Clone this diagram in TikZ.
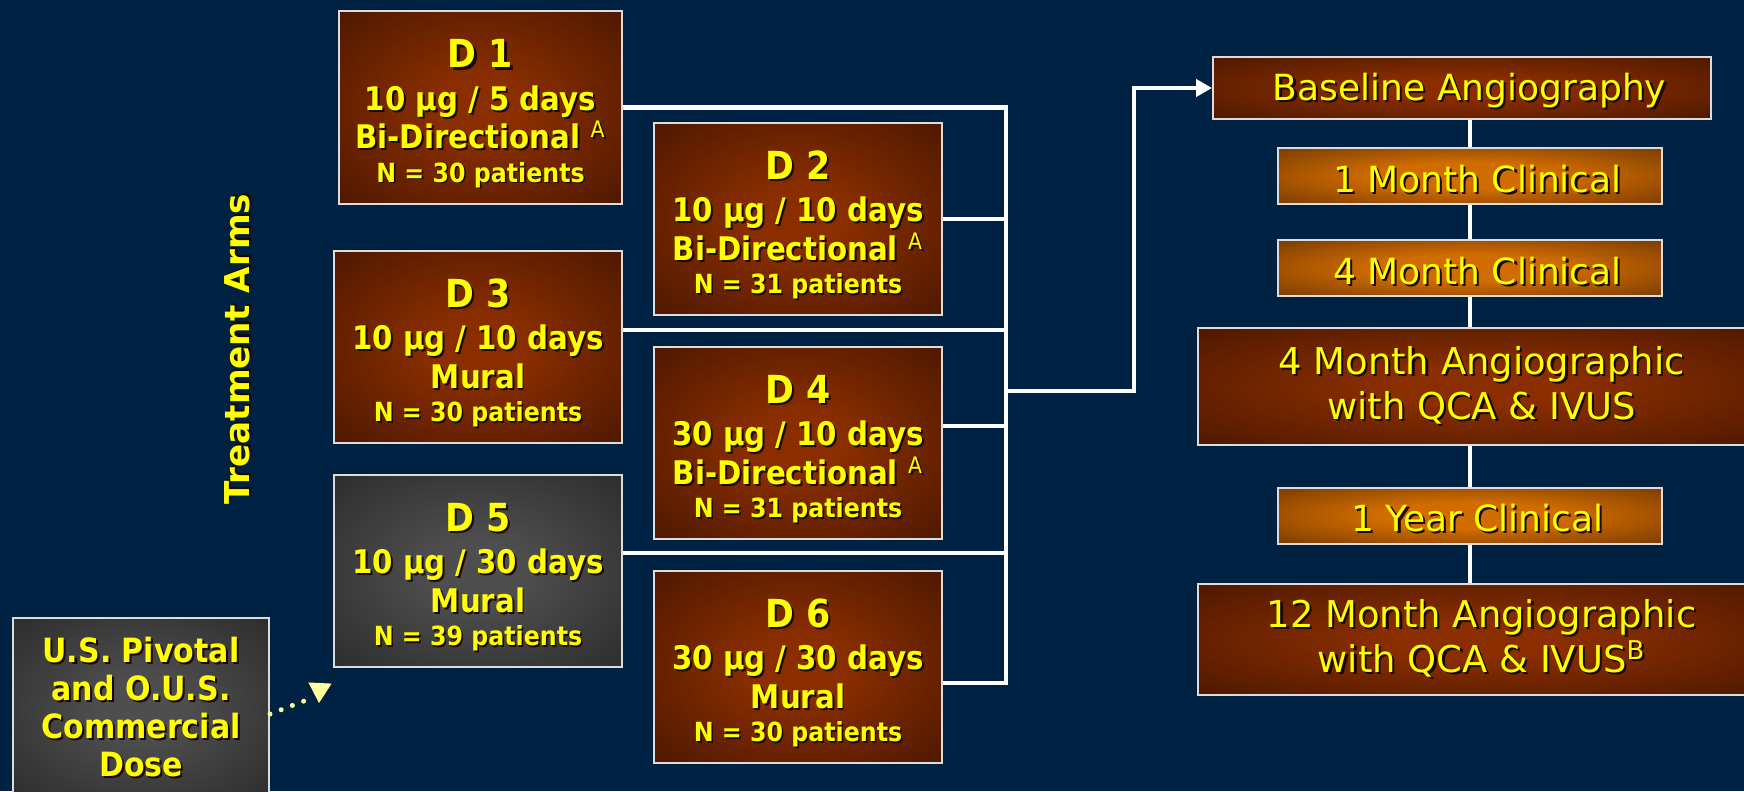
\documentclass[tikz,border=0pt]{standalone}
\usepackage{fontspec}
\setmainfont{DejaVu Sans}
\newfontfamily\condfont[FakeStretch=0.9]{DejaVu Sans}
\usetikzlibrary{arrows.meta,positioning}

\definecolor{navy}{RGB}{0,34,66}
\definecolor{armin}{RGB}{138,46,0}
\definecolor{armout}{RGB}{46,13,0}
\definecolor{visin}{RGB}{208,108,0}
\definecolor{visout}{RGB}{70,30,0}
\definecolor{greyin}{RGB}{78,78,78}
\definecolor{greyout}{RGB}{28,28,28}
\definecolor{yel}{RGB}{255,255,0}
\definecolor{dotyel}{RGB}{255,255,160}
\definecolor{frame}{RGB}{220,220,220}
\definecolor{txtshadow}{RGB}{25,8,0}

\pgfdeclareradialshading{armglow}{\pgfpoint{0bp}{0bp}}{color(0bp)=(armin); color(8bp)=(armin); color(50bp)=(armout)}
\pgfdeclareradialshading{visglow}{\pgfpoint{0bp}{0bp}}{color(0bp)=(visin); color(12bp)=(visin); color(50bp)=(visout)}
\pgfdeclareradialshading{greyglow}{\pgfpoint{0bp}{0bp}}{color(0bp)=(greyin); color(8bp)=(greyin); color(50bp)=(greyout)}

% yellow text with a dark drop shadow
\newcommand\shtext[1]{\leavevmode\rlap{\kern0.06em\raisebox{-0.06em}{\color{txtshadow}#1}}#1}

\tikzset{
  box/.style={draw=frame, line width=0.04cm, text=yel, align=center, inner sep=0pt},
  arm/.style={box, shade, shading=armglow, minimum width=5.76cm, minimum height=3.84cm,
    font=\condfont\bfseries\fontsize{18.5}{22}\selectfont},
  greyarm/.style={arm, shading=greyglow},
  visit/.style={box, shade, shading=visglow, minimum width=7.68cm, minimum height=1.12cm,
    font=\fontsize{20.5}{25}\selectfont,
    execute at begin node={\hspace*{0.3cm}\rule{0pt}{20pt}}},
  angio/.style={box, shade, shading=armglow, minimum width=11.34cm, minimum height=2.34cm,
    font=\fontsize{21}{25.5}\selectfont,
    execute at begin node={\rule{0pt}{21pt}}},
  wire/.style={draw=white, line width=0.095cm},
  dotline/.style={draw=dotyel, line width=0.1cm, line cap=round, dash pattern=on 0pt off 0.24cm},
}
\newcommand\armhead[1]{{\fontsize{22}{26}\selectfont\rule{0pt}{24pt}\shtext{#1}}}
\newcommand\armcount[1]{{\fontsize{15}{20}\selectfont\shtext{#1}}}

\begin{document}
\begin{tikzpicture}[x=0.02cm, y=-0.02cm]
  \useasboundingbox (0,0) rectangle (1744,791);
  \fill[navy] (0,0) rectangle (1744,791);
  \clip (0,0) rectangle (1744,791);

  % treatment arms
  \node[arm, minimum width=5.66cm, minimum height=3.86cm] (d1) at (480.5,107.5)
    {\armhead{D 1}\\[2pt] \shtext{10 µg / 5 days}\\ \shtext{Bi-Directional \textsuperscript{\mdseries A}}\\[-3pt] \armcount{N = 30 patients}};
  \node[arm] (d2) at (798,219)
    {\armhead{D 2}\\[2pt] \shtext{10 µg / 10 days}\\ \shtext{Bi-Directional \textsuperscript{\mdseries A}}\\[-3pt] \armcount{N = 31 patients}};
  \node[arm] (d3) at (478,347)
    {\armhead{D 3}\\[2pt] \shtext{10 µg / 10 days}\\ \shtext{Mural}\\[-3pt] \armcount{N = 30 patients}};
  \node[arm] (d4) at (798,443)
    {\armhead{D 4}\\[2pt] \shtext{30 µg / 10 days}\\ \shtext{Bi-Directional \textsuperscript{\mdseries A}}\\[-3pt] \armcount{N = 31 patients}};
  \node[greyarm] (d5) at (478,571)
    {\armhead{D 5}\\[2pt] \shtext{10 µg / 30 days}\\ \shtext{Mural}\\[-3pt] \armcount{N = 39 patients}};
  \node[arm] (d6) at (798,667)
    {\armhead{D 6}\\[2pt] \shtext{30 µg / 30 days}\\ \shtext{Mural}\\[-3pt] \armcount{N = 30 patients}};

  \node[greyarm, minimum width=5.12cm, minimum height=3.6cm,
    font=\condfont\bfseries\fontsize{19}{21.6}\selectfont] (us) at (141,708)
    {\shtext{U.S. Pivotal}\\ \shtext{and O.U.S.}\\ \shtext{Commercial}\\ \shtext{Dose}};

  \node[rotate=90, text=yel, font=\bfseries\fontsize{19.5}{23}\selectfont] (arms) at (238,349)
    {\shtext{Treatment Arms}};

  % follow-up schedule
  \node[visit, minimum width=9.96cm, minimum height=1.24cm, shading=armglow] (base) at (1462,88)
    {\shtext{Baseline Angiography}};
  \node[visit] (m1) at (1470,176) {\shtext{1 Month Clinical}};
  \node[visit] (m4) at (1470,268) {\shtext{4 Month Clinical}};
  \node[angio] (a4) at (1481.5,386.5) {\shtext{4 Month Angiographic}\\ \shtext{with QCA \& IVUS}};
  \node[visit] (y1) at (1470,515.5) {\shtext{1 Year Clinical}};
  \node[angio, minimum height=2.22cm] (a12) at (1481.5,639.5)
    {\shtext{12 Month Angiographic}\\ \shtext{with QCA \& IVUS\textsuperscript{B}}};

  % connectors
  \coordinate (bus) at (1006,0);
  \coordinate (jog) at (1134,391);
  \coordinate (l3) at ([yshift=0.34cm]d3.east);
  \coordinate (l4) at ([yshift=0.34cm]d4.east);
  \coordinate (l5) at ([yshift=0.36cm]d5.east);
  \coordinate (l6) at ([yshift=-0.32cm]d6.east);
  \draw[wire] (d1.east) -| (bus |- l6) -- (l6);
  \draw[wire] (d2.east) -- (d2.east -| bus);
  \draw[wire] (l3) -- (l3 -| bus);
  \draw[wire] (l4) -- (l4 -| bus);
  \draw[wire] (l5) -- (l5 -| bus);
  \draw[wire, -{Triangle[length=0.32cm, width=0.34cm]}] (bus |- jog) -- (jog) |- (base.west);

  \draw[wire] (m1.north) -- (m1.north |- base.south);
  \draw[wire] (m1.south) -- (m4.north);
  \draw[wire] (m4.south) -- (m4.south |- a4.north);
  \draw[wire] (m4.south |- a4.south) -- (y1.north);
  \draw[wire] (y1.south) -- (y1.south |- a12.north);

  % dotted pointer to D 5
  \coordinate (ptr) at (312,698);
  \coordinate (ptrtop) at (320,683);
  \coordinate (ptrtip) at (319,703);
  \draw[dotline] ([yshift=-0.12cm]us.east) -- (ptr);
  \draw[dotyel, line width=0.02cm, -{Triangle[length=0.4cm, width=0.46cm]}] (ptrtop) -- (ptrtip);
\end{tikzpicture}
\end{document}
